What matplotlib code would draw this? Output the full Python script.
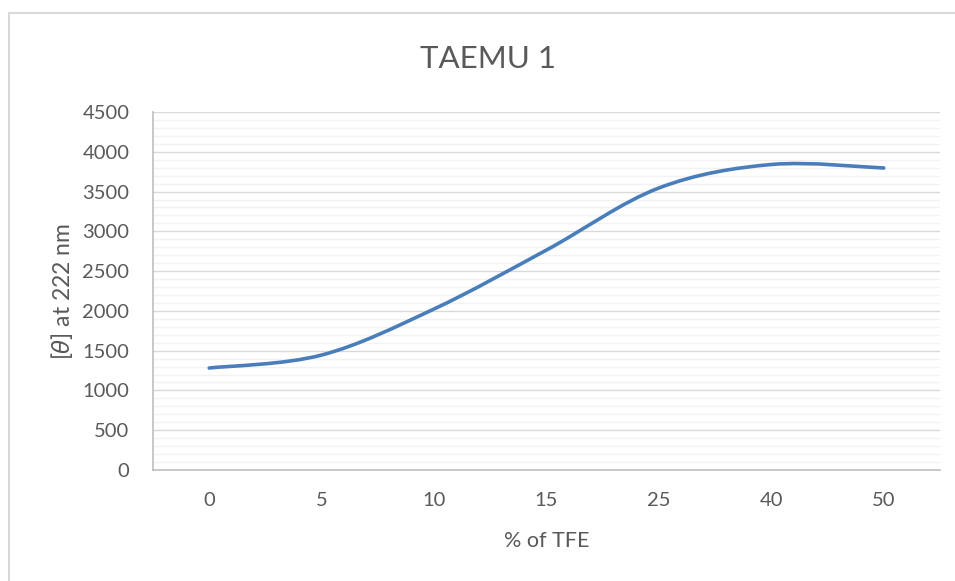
import matplotlib
matplotlib.use("Agg")
import matplotlib.pyplot as plt
from matplotlib.path import Path
from matplotlib.patches import PathPatch
from matplotlib.lines import Line2D
import numpy as np

categories = ["0", "5", "10", "15", "25", "40", "50"]
values = [1282, 1445, 2024, 2765, 3545, 3840, 3796]
yticks = [0, 500, 1000, 1500, 2000, 2500, 3000, 3500, 4000, 4500]

TXT = "#595959"
plt.rcParams['font.family'] = ['Lato', 'DejaVu Sans']

fig = plt.figure(figsize=(9.55, 5.81), dpi=100)
W, H = 955, 581
ax = fig.add_axes([153 / W, 1 - 470 / H, (940 - 153) / W, (470 - 112) / H])

# outer chart border (top & left visible)
fig.add_artist(Line2D([9 / W, 1], [1 - 13 / H, 1 - 13 / H], transform=fig.transFigure,
                      color="#d9d9d9", lw=1.5))
fig.add_artist(Line2D([9 / W, 9 / W], [0, 1 - 13 / H], transform=fig.transFigure,
                      color="#d9d9d9", lw=1.5))

x = np.arange(len(categories), dtype=float)
y = np.array(values, dtype=float)

# smooth curve (Catmull-Rom -> cubic Bezier), like Excel's smoothed line
pts = np.column_stack([x, y])
verts = [tuple(pts[0])]
codes = [Path.MOVETO]
n = len(pts)
for i in range(n - 1):
    p0 = pts[i - 1] if i > 0 else pts[i]
    p1 = pts[i]
    p2 = pts[i + 1]
    p3 = pts[i + 2] if i + 2 < n else pts[i + 1]
    c1 = p1 + (p2 - p0) / 6.0
    c2 = p2 - (p3 - p1) / 6.0
    verts += [tuple(c1), tuple(c2), tuple(p2)]
    codes += [Path.CURVE4] * 3
patch = PathPatch(Path(verts, codes), facecolor="none", edgecolor="#4a7ebb",
                  lw=2.6, capstyle="round", zorder=3)
ax.add_patch(patch)

ax.set_xlim(-0.5, len(categories) - 0.5)
ax.set_ylim(0, 4500)
ax.set_xticks(x)
ax.set_xticklabels(categories)
ax.set_yticks(yticks)
ax.set_yticks(np.arange(0, 4501, 100), minor=True)
ax.grid(axis="y", which="major", color="#d9d9d9", lw=1.0, zorder=0)
ax.grid(axis="y", which="minor", color="#f2f2f2", lw=1.0, zorder=0)
ax.set_axisbelow(True)

for s in ["top", "right"]:
    ax.spines[s].set_visible(False)
ax.spines["left"].set_color("#bfbfbf")
ax.spines["bottom"].set_color("#bfbfbf")
ax.spines["left"].set_linewidth(1.2)
ax.spines["bottom"].set_linewidth(1.2)
ax.tick_params(axis="both", which="both", length=0, labelsize=14.5, labelcolor=TXT)
ax.tick_params(axis="x", pad=16)
ax.tick_params(axis="y", pad=17)

ax.set_xlabel("% of TFE", fontsize=15.5, color=TXT, labelpad=16)
ax.set_ylabel(r"[$\theta$] at 222 nm", fontsize=16.5, color=TXT, labelpad=5)
fig.text(488 / W, 1 - 59 / H, "TAEMU 1", ha="center", va="center", fontsize=22.5, color=TXT)

fig.savefig("out.png", dpi=100)
